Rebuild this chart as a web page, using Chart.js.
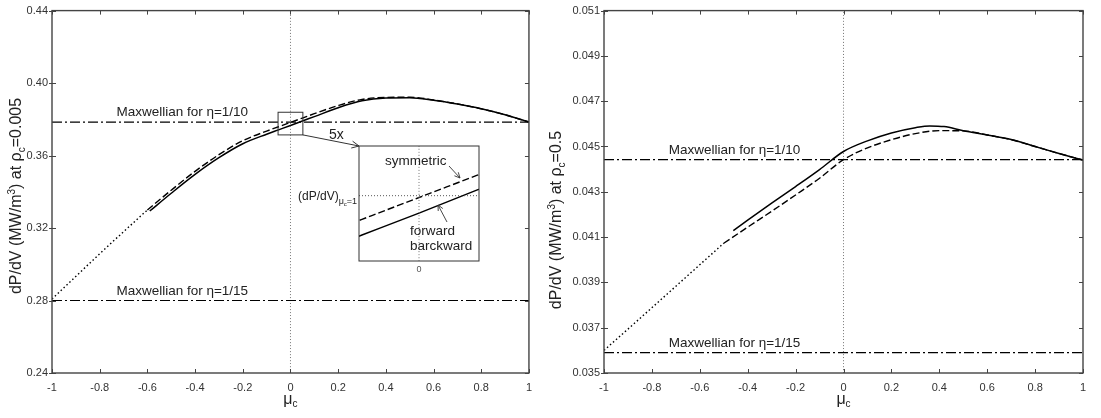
<!DOCTYPE html>
<html>
<head>
<meta charset="utf-8">
<script src="https://cdn.jsdelivr.net/npm/chart.js@4.4.0/dist/chart.umd.min.js"></script>
<style>
  html, body { margin: 0; padding: 0; background: #fff; }
  #wrap { position: relative; width: 1101px; height: 418px; overflow: hidden; }
  canvas { position: absolute; }
  #leftChart { left: 0; top: 0; }
  #rightChart { left: 540px; top: 0; }
  #insetChart { left: 358px; top: 145px; }
</style>
</head>
<body>
<div id="wrap">
  <canvas id="leftChart" width="540" height="418"></canvas>
  <canvas id="rightChart" width="561" height="418"></canvas>
  <canvas id="insetChart" width="122" height="132"></canvas>
</div>
<script>
// Tick values
const muTicks = [-1, -0.8, -0.6, -0.4, -0.2, 0, 0.2, 0.4, 0.6, 0.8, 1];
const leftYTicks = [0.24, 0.28, 0.32, 0.36, 0.40, 0.44];
const rightYTicks = [0.035, 0.037, 0.039, 0.041, 0.043, 0.045, 0.047, 0.049, 0.051];

// Left panel, rho_c = 0.005
const leftSymMu = [-0.6, -0.5, -0.4, -0.3, -0.2, -0.1, -0.05, 0, 0.05, 0.1, 0.2, 0.3, 0.4, 0.5, 0.6, 0.7, 0.8, 0.9, 1];
const leftSymVal = [0.3300, 0.3409, 0.3513, 0.3605, 0.3682, 0.3735, 0.3759, 0.3783, 0.3807, 0.3831, 0.3876, 0.3910, 0.3921, 0.3922, 0.3907, 0.3885, 0.3858, 0.3825, 0.3785];
const leftFwdMu = [-0.59, -0.5, -0.4, -0.3, -0.2, -0.1, -0.05, 0, 0.05, 0.1, 0.2, 0.3, 0.4, 0.5, 0.6, 0.7, 0.8, 0.9, 1];
const leftFwdVal = [0.3294, 0.3392, 0.3496, 0.3588, 0.3665, 0.3718, 0.3742, 0.3766, 0.3791, 0.3815, 0.3864, 0.3902, 0.3917, 0.3919, 0.3905, 0.3884, 0.3858, 0.3825, 0.3785];
const leftDotMu = [-1, -0.8, -0.6];
const leftDotVal = [0.2808, 0.3058, 0.3300];
const leftMaxw10 = 0.3785;
const leftMaxw15 = 0.2800;

// Right panel, rho_c = 0.5
const rightSymMu = [-0.5, -0.4, -0.3, -0.2, -0.1, 0, 0.1, 0.2, 0.3, 0.4, 0.5, 0.6, 0.7, 0.8, 0.9, 1];
const rightSymVal = [0.04073, 0.04144, 0.04214, 0.04286, 0.04360, 0.04442, 0.04494, 0.04530, 0.04557, 0.04570, 0.04569, 0.04551, 0.04530, 0.04500, 0.04469, 0.04440];
const rightFwdMu = [-0.46, -0.4, -0.3, -0.2, -0.1, 0, 0.1, 0.2, 0.3, 0.36, 0.42, 0.5, 0.6, 0.7, 0.8, 0.9, 1];
const rightFwdVal = [0.04129, 0.04175, 0.04250, 0.04323, 0.04398, 0.04478, 0.04525, 0.04560, 0.04583, 0.04591, 0.04588, 0.04570, 0.04551, 0.04531, 0.04500, 0.04469, 0.04440];
const rightDotMu = [-1, -0.85, -0.5];
const rightDotVal = [0.0360, 0.03741, 0.04073];
const rightMaxw10 = 0.04442;
const rightMaxw15 = 0.0359;

// Zoomed window shown in the inset (5x)
const insetMu = [-0.052, 0.052];
const insetVal = [0.3714, 0.3839];

const FONT = '"Liberation Sans", Arial, Helvetica, sans-serif';
const INK = '#222';
const AXIS = '#444';

function line(xs, ys, dash, width, color) {
    return {
        data: xs.map((x, i) => ({ x: x, y: ys[i] })),
        borderColor: color || '#000',
        borderWidth: width || 1.4,
        borderDash: dash || [],
        pointRadius: 0,
        fill: false,
        cubicInterpolationMode: 'monotone'
    };
}

// Draw text made of pieces with different sizes / offsets (sub and superscripts)
function drawRich(ctx, parts, x, y, align, rot) {
    ctx.save();
    ctx.translate(x, y);
    if (rot) ctx.rotate(rot);
    ctx.textAlign = 'left';
    ctx.textBaseline = 'alphabetic';
    ctx.fillStyle = INK;
    let w = 0;
    parts.forEach(p => {
        ctx.font = p[1] + 'px ' + FONT;
        w += ctx.measureText(p[0]).width;
    });
    let cx = align === 'center' ? -w / 2 : 0;
    parts.forEach(p => {
        ctx.font = p[1] + 'px ' + FONT;
        ctx.fillText(p[0], cx, p[2] || 0);
        cx += ctx.measureText(p[0]).width;
    });
    ctx.restore();
}

function arrowHead(ctx, x0, y0, x1, y1, len) {
    const a = Math.atan2(y1 - y0, x1 - x0);
    ctx.beginPath();
    ctx.moveTo(x1 - len * Math.cos(a - 0.45), y1 - len * Math.sin(a - 0.45));
    ctx.lineTo(x1, y1);
    ctx.lineTo(x1 - len * Math.cos(a + 0.45), y1 - len * Math.sin(a + 0.45));
    ctx.stroke();
}

// Box around the plot with inward ticks on all four sides
function framePlugin(xTicks, yTicks) {
    return {
        id: 'frame',
        afterDatasetsDraw(chart) {
            const ctx = chart.ctx;
            const a = chart.chartArea;
            const xs = chart.scales.x, ys = chart.scales.y;
            ctx.save();
            ctx.strokeStyle = AXIS;
            ctx.lineWidth = 1;
            xTicks.forEach(v => {
                const px = Math.round(xs.getPixelForValue(v)) + 0.5;
                ctx.beginPath();
                ctx.moveTo(px, a.bottom); ctx.lineTo(px, a.bottom - 4);
                ctx.moveTo(px, a.top); ctx.lineTo(px, a.top + 4);
                ctx.stroke();
            });
            yTicks.forEach(v => {
                const py = Math.round(ys.getPixelForValue(v)) + 0.5;
                ctx.beginPath();
                ctx.moveTo(a.left - 3, py); ctx.lineTo(a.left + 4, py);
                ctx.moveTo(a.right, py); ctx.lineTo(a.right - 4, py);
                ctx.stroke();
            });
            ctx.lineWidth = 1.4;
            ctx.strokeRect(a.left, a.top, a.right - a.left, a.bottom - a.top);
            ctx.restore();
        }
    };
}

function labelsPlugin(cfg) {
    return {
        id: 'labels',
        afterDraw(chart) {
            const ctx = chart.ctx;
            const a = chart.chartArea;
            const xs = chart.scales.x, ys = chart.scales.y;
            // Maxwellian labels
            drawRich(ctx, [['Maxwellian for \u03b7=1/10', 13.5]], xs.getPixelForValue(-0.73), ys.getPixelForValue(cfg.maxw10) - 6);
            drawRich(ctx, [['Maxwellian for \u03b7=1/15', 13.5]], xs.getPixelForValue(-0.73), ys.getPixelForValue(cfg.maxw15) - 6);
            // axis titles
            drawRich(ctx, [['dP/dV (MW/m', 16], ['3', 10, -6], [') at \u03c1', 16], ['c', 10, 4], ['=' + cfg.rho, 16]],
                cfg.yTitleX, cfg.yTitleY, 'center', -Math.PI / 2);
            drawRich(ctx, [['\u03bc', 16], ['c', 10, 3]], (a.left + a.right) / 2, 404, 'center');
            if (cfg.extra) cfg.extra(chart);
        }
    };
}

function makeOptions(cfg) {
    return {
        responsive: false,
        animation: false,
        layout: { padding: { top: 10, right: cfg.padRight, left: 0, bottom: 0 } },
        plugins: { legend: { display: false }, tooltip: { enabled: false } },
        scales: {
            x: {
                type: 'linear', min: -1, max: 1,
                afterBuildTicks: s => { s.ticks = muTicks.map(v => ({ value: v })); },
                afterFit: s => { s.height = 45; },
                grid: { display: false, drawTicks: false },
                border: { display: false },
                ticks: {
                    color: '#333', padding: 8, maxRotation: 0, autoSkip: false,
                    font: { family: FONT, size: 11 },
                    callback: v => String(Math.round(v * 10) / 10)
                }
            },
            y: {
                type: 'linear', min: cfg.yMin, max: cfg.yMax,
                afterBuildTicks: s => { s.ticks = cfg.yTicks.map(v => ({ value: v })); },
                afterFit: s => { s.width = cfg.yWidth; },
                grid: { display: false, drawTicks: false },
                border: { display: false },
                ticks: {
                    color: '#333', padding: 4, autoSkip: false,
                    font: { family: FONT, size: 11 },
                    callback: v => v.toFixed(cfg.digits)
                }
            }
        }
    };
}

const dashDot = [10, 3, 2, 3];
const dashed = [7, 3];
const dotted = [1.5, 2.5];

function panelDatasets(p) {
    return [
        line([-1, 1], [p.maxw10, p.maxw10], dashDot, 1.2),
        line([-1, 1], [p.maxw15, p.maxw15], dashDot, 1.2),
        line([0, 0], [p.yMin, p.yMax], [1, 2], 1, '#777'),
        line(p.dotMu, p.dotVal, dotted, 1.4),
        line(p.symMu, p.symVal, dashed, 1.4),
        line(p.fwdMu, p.fwdVal, [], 1.5)
    ];
}

// ---------- left panel ----------
const leftPanel = {
    maxw10: leftMaxw10, maxw15: leftMaxw15, yMin: 0.24, yMax: 0.44,
    dotMu: leftDotMu, dotVal: leftDotVal, symMu: leftSymMu, symVal: leftSymVal,
    fwdMu: leftFwdMu, fwdVal: leftFwdVal
};

function leftExtra(chart) {
    const ctx = chart.ctx;
    const xs = chart.scales.x, ys = chart.scales.y;
    const x0 = xs.getPixelForValue(insetMu[0]), x1 = xs.getPixelForValue(insetMu[1]);
    const y0 = ys.getPixelForValue(insetVal[1]), y1 = ys.getPixelForValue(insetVal[0]);
    ctx.save();
    ctx.strokeStyle = '#333';
    ctx.lineWidth = 1;
    ctx.strokeRect(x0, y0, x1 - x0, y1 - y0);
    // leader to the inset box
    ctx.beginPath();
    ctx.moveTo(x1, y1);
    ctx.lineTo(359, 146);
    ctx.stroke();
    arrowHead(ctx, x1, y1, 359, 146, 8);
    ctx.restore();
    drawRich(ctx, [['5x', 14]], 329, 139);
    drawRich(ctx, [['(dP/dV)', 12], ['\u03bc', 9, 4], ['c', 6, 6], ['=1', 9, 4]], 298, 200);
}

new Chart(document.getElementById('leftChart'), {
    type: 'line',
    data: { datasets: panelDatasets(leftPanel) },
    options: makeOptions({ yMin: 0.24, yMax: 0.44, yTicks: leftYTicks, digits: 2, yWidth: 52, padRight: 7 }),
    plugins: [framePlugin(muTicks, leftYTicks),
        labelsPlugin({ maxw10: leftMaxw10, maxw15: leftMaxw15, rho: '0.005', yTitleX: 21, yTitleY: 196, extra: leftExtra })]
});

// ---------- right panel ----------
const rightPanel = {
    maxw10: rightMaxw10, maxw15: rightMaxw15, yMin: 0.035, yMax: 0.051,
    dotMu: rightDotMu, dotVal: rightDotVal, symMu: rightSymMu, symVal: rightSymVal,
    fwdMu: rightFwdMu, fwdVal: rightFwdVal
};

new Chart(document.getElementById('rightChart'), {
    type: 'line',
    data: { datasets: panelDatasets(rightPanel) },
    options: makeOptions({ yMin: 0.035, yMax: 0.051, yTicks: rightYTicks, digits: 3, yWidth: 64, padRight: 18 }),
    plugins: [framePlugin(muTicks, rightYTicks),
        labelsPlugin({ maxw10: rightMaxw10, maxw15: rightMaxw15, rho: '0.5', yTitleX: 21, yTitleY: 220 })]
});

// ---------- inset (5x zoom around mu_c = 0) ----------
const insetLabels = {
    id: 'insetLabels',
    afterDraw(chart) {
        const ctx = chart.ctx;
        const a = chart.chartArea;
        ctx.save();
        ctx.strokeStyle = '#333';
        ctx.lineWidth = 1;
        ctx.strokeRect(a.left, a.top, a.right - a.left, a.bottom - a.top);
        ctx.lineWidth = 0.9;
        ctx.beginPath();
        ctx.moveTo(91, 21); ctx.lineTo(102, 33);
        ctx.stroke();
        arrowHead(ctx, 91, 21, 102, 33, 6);
        ctx.beginPath();
        ctx.moveTo(89, 77); ctx.lineTo(80, 60);
        ctx.stroke();
        arrowHead(ctx, 89, 77, 80, 60, 6);
        ctx.restore();
        drawRich(ctx, [['symmetric', 13.5]], 27, 20);
        drawRich(ctx, [['forward', 13.5]], 52, 90);
        drawRich(ctx, [['barckward', 13.5]], 52, 105);
    }
};

const insetRef = leftSymVal[leftSymVal.length - 1];

new Chart(document.getElementById('insetChart'), {
    type: 'line',
    data: {
        datasets: [
            line([0, 0], insetVal, [1, 2], 1, '#777'),
            line(insetMu, [insetRef, insetRef], [1, 2], 1, '#555'),
            line(leftSymMu, leftSymVal, dashed, 1.4),
            line(leftFwdMu, leftFwdVal, [], 1.5)
        ]
    },
    options: {
        responsive: false,
        animation: false,
        layout: { padding: { top: 1, left: 1, right: 1, bottom: 0 } },
        plugins: { legend: { display: false }, tooltip: { enabled: false } },
        scales: {
            x: {
                type: 'linear', min: insetMu[0], max: insetMu[1],
                afterBuildTicks: s => { s.ticks = [{ value: 0 }]; },
                afterFit: s => { s.height = 16; },
                grid: { display: false, drawTicks: false },
                border: { display: false },
                ticks: { color: '#555', padding: 3, font: { family: FONT, size: 9 }, callback: v => String(v) }
            },
            y: { type: 'linear', min: insetVal[0], max: insetVal[1], display: false }
        }
    },
    plugins: [insetLabels]
});
</script>
</body>
</html>
